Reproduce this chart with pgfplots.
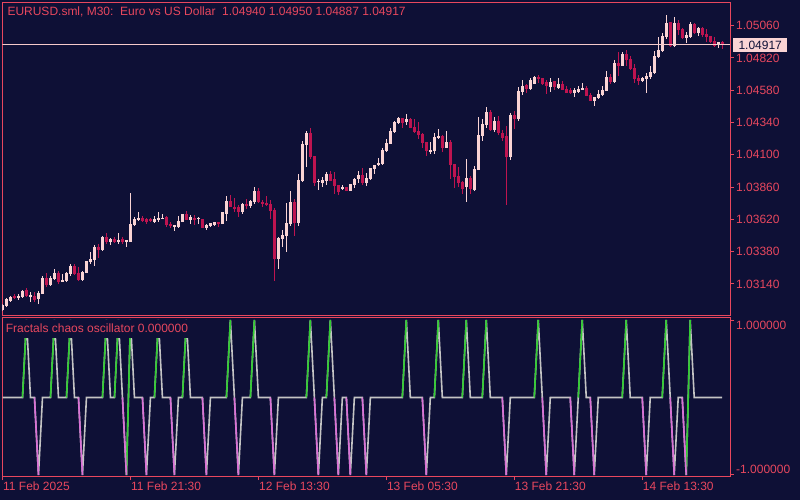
\documentclass[border=0pt]{standalone}
\usepackage{pgfplots}
\usepackage{pgfplotstable}
\pgfplotsset{compat=1.18}
\usetikzlibrary{backgrounds,calc}
\usepackage{fontspec}
\setmainfont{Liberation Sans}
\newcommand\f{\fontsize{12}{14}\selectfont}
\definecolor{bg}{HTML}{0E1036}
\definecolor{fr}{HTML}{E8475E}
\definecolor{bull}{HTML}{FAD4D4}
\definecolor{bear}{HTML}{BE1450}
\definecolor{pline}{HTML}{F5CACA}
\definecolor{oscg}{HTML}{C4C4C4}
\definecolor{oscup}{HTML}{32CD32}
\definecolor{oscdn}{HTML}{DA70D6}

\pgfplotstableread{
k o h l c
0 1.02947 1.02991 1.02940 1.02984
1 1.02976 1.03036 1.02969 1.03028
2 1.03014 1.03051 1.03006 1.03043
4 1.03036 1.03065 1.03021 1.03051
5 1.03043 1.03095 1.03036 1.03088
7 1.03051 1.03080 1.03006 1.03058
9 1.03028 1.03088 1.02991 1.03073
10 1.03065 1.03199 1.03065 1.03185
12 1.03133 1.03199 1.03125 1.03185
13 1.03177 1.03251 1.03170 1.03222
15 1.03155 1.03214 1.03155 1.03170
16 1.03163 1.03229 1.03155 1.03222
17 1.03214 1.03288 1.03199 1.03273
20 1.03170 1.03237 1.03163 1.03229
21 1.03222 1.03311 1.03222 1.03311
22 1.03303 1.03378 1.03288 1.03326
23 1.03318 1.03430 1.03273 1.03415
25 1.03393 1.03497 1.03386 1.03489
27 1.03452 1.03482 1.03430 1.03474
29 1.03452 1.03519 1.03437 1.03467
31 1.03452 1.03467 1.03415 1.03467
32 1.03452 1.03817 1.03452 1.03586
33 1.03579 1.03638 1.03571 1.03623
34 1.03616 1.03675 1.03609 1.03631
38 1.03601 1.03645 1.03594 1.03623
39 1.03616 1.03675 1.03601 1.03631
40 1.03623 1.03660 1.03623 1.03631
43 1.03571 1.03579 1.03534 1.03579
44 1.03564 1.03645 1.03556 1.03609
45 1.03601 1.03660 1.03601 1.03660
47 1.03616 1.03653 1.03586 1.03638
49 1.03623 1.03638 1.03586 1.03631
51 1.03556 1.03586 1.03541 1.03579
52 1.03571 1.03594 1.03564 1.03594
53 1.03579 1.03601 1.03571 1.03601
55 1.03586 1.03675 1.03586 1.03675
56 1.03660 1.03794 1.03609 1.03757
60 1.03675 1.03742 1.03660 1.03734
62 1.03719 1.03764 1.03705 1.03757
63 1.03749 1.03861 1.03734 1.03832
69 1.03326 1.03489 1.03251 1.03482
70 1.03474 1.03541 1.03415 1.03504
71 1.03497 1.03742 1.03378 1.03594
72 1.03586 1.03832 1.03571 1.03749
74 1.03594 1.03957 1.03571 1.03913
75 1.03906 1.04203 1.03898 1.04180
76 1.04173 1.04278 1.04010 1.04263
79 1.03898 1.03920 1.03839 1.03906
80 1.03891 1.03935 1.03861 1.03913
81 1.03906 1.03972 1.03876 1.03957
85 1.03846 1.03876 1.03839 1.03861
87 1.03832 1.03883 1.03832 1.03883
88 1.03876 1.03928 1.03854 1.03920
89 1.03920 1.03980 1.03891 1.03950
91 1.03891 1.03965 1.03868 1.03928
92 1.03920 1.04002 1.03913 1.04002
93 1.03995 1.04025 1.03957 1.04025
94 1.04025 1.04077 1.04017 1.04040
95 1.04032 1.04151 1.04025 1.04136
96 1.04129 1.04218 1.04121 1.04188
97 1.04180 1.04300 1.04180 1.04278
98 1.04270 1.04352 1.04263 1.04344
99 1.04337 1.04381 1.04329 1.04374
101 1.04344 1.04404 1.04322 1.04367
107 1.04129 1.04195 1.04106 1.04136
108 1.04129 1.04263 1.04106 1.04233
109 1.04225 1.04292 1.04218 1.04240
111 1.04151 1.04278 1.04151 1.04195
116 1.03861 1.04069 1.03749 1.03928
118 1.03839 1.04017 1.03832 1.03995
119 1.03987 1.04381 1.03987 1.04248
120 1.04240 1.04367 1.04203 1.04329
121 1.04322 1.04456 1.04300 1.04418
123 1.04285 1.04381 1.04270 1.04352
127 1.04084 1.04411 1.04062 1.04396
129 1.04367 1.04604 1.04352 1.04574
130 1.04567 1.04656 1.04545 1.04612
132 1.04589 1.04671 1.04582 1.04656
133 1.04626 1.04686 1.04626 1.04678
137 1.04604 1.04671 1.04567 1.04641
139 1.04597 1.04671 1.04589 1.04626
143 1.04560 1.04597 1.04530 1.04582
144 1.04567 1.04612 1.04560 1.04589
145 1.04582 1.04634 1.04582 1.04597
148 1.04500 1.04530 1.04463 1.04530
149 1.04523 1.04582 1.04515 1.04552
150 1.04545 1.04612 1.04537 1.04582
151 1.04574 1.04723 1.04574 1.04678
153 1.04641 1.04805 1.04634 1.04783
155 1.04760 1.04864 1.04760 1.04849
160 1.04649 1.04678 1.04641 1.04671
161 1.04663 1.04708 1.04560 1.04686
162 1.04678 1.04760 1.04663 1.04716
163 1.04708 1.04872 1.04701 1.04835
164 1.04827 1.04976 1.04820 1.04879
165 1.04872 1.05006 1.04864 1.04983
166 1.04976 1.05140 1.04961 1.05080
168 1.04909 1.05125 1.04902 1.05080
171 1.04969 1.05013 1.04932 1.04991
172 1.04976 1.05087 1.04969 1.05073
174 1.05006 1.05050 1.04983 1.05043
179 1.04917 1.04939 1.04894 1.04939
}\bulltab

\pgfplotstableread{
k o h l c
3 1.03051 1.03065 1.03028 1.03036
6 1.03095 1.03110 1.03043 1.03051
8 1.03051 1.03080 1.03006 1.03021
11 1.03185 1.03222 1.03118 1.03133
14 1.03222 1.03237 1.03140 1.03155
18 1.03273 1.03288 1.03207 1.03214
19 1.03222 1.03266 1.03163 1.03170
24 1.03415 1.03437 1.03333 1.03393
26 1.03489 1.03519 1.03437 1.03452
28 1.03474 1.03489 1.03445 1.03452
30 1.03474 1.03489 1.03437 1.03452
35 1.03631 1.03645 1.03601 1.03609
36 1.03623 1.03631 1.03586 1.03601
37 1.03623 1.03631 1.03601 1.03609
41 1.03638 1.03645 1.03564 1.03579
42 1.03586 1.03601 1.03556 1.03571
46 1.03660 1.03683 1.03616 1.03616
48 1.03631 1.03653 1.03579 1.03616
50 1.03623 1.03623 1.03556 1.03556
54 1.03601 1.03601 1.03564 1.03586
57 1.03757 1.03802 1.03712 1.03712
58 1.03712 1.03780 1.03675 1.03705
59 1.03712 1.03727 1.03638 1.03675
61 1.03734 1.03772 1.03697 1.03719
64 1.03832 1.03854 1.03742 1.03749
65 1.03749 1.03764 1.03712 1.03734
66 1.03742 1.03794 1.03719 1.03727
67 1.03734 1.03764 1.03623 1.03683
68 1.03690 1.03705 1.03163 1.03326
73 1.03749 1.03772 1.03497 1.03594
77 1.04263 1.04300 1.04069 1.04084
78 1.04091 1.04091 1.03868 1.03891
82 1.03957 1.03980 1.03906 1.03906
83 1.03920 1.03972 1.03809 1.03868
84 1.03876 1.03876 1.03802 1.03824
86 1.03861 1.03861 1.03832 1.03832
90 1.03950 1.04002 1.03876 1.03891
100 1.04374 1.04374 1.04300 1.04337
102 1.04367 1.04374 1.04300 1.04300
103 1.04307 1.04367 1.04263 1.04270
104 1.04278 1.04344 1.04218 1.04248
105 1.04255 1.04263 1.04151 1.04188
106 1.04195 1.04195 1.04091 1.04129
110 1.04240 1.04248 1.04121 1.04151
112 1.04195 1.04210 1.03920 1.04025
113 1.04032 1.04032 1.03854 1.03935
114 1.03943 1.04010 1.03861 1.03891
115 1.03898 1.03906 1.03809 1.03846
117 1.03928 1.03943 1.03809 1.03846
122 1.04418 1.04433 1.04278 1.04285
124 1.04352 1.04389 1.04248 1.04263
125 1.04263 1.04285 1.04203 1.04225
126 1.04240 1.04315 1.03727 1.04084
128 1.04396 1.04426 1.04292 1.04367
131 1.04619 1.04626 1.04560 1.04589
134 1.04678 1.04693 1.04634 1.04663
135 1.04671 1.04671 1.04619 1.04626
136 1.04641 1.04656 1.04552 1.04612
138 1.04649 1.04649 1.04582 1.04604
140 1.04626 1.04649 1.04582 1.04582
141 1.04589 1.04612 1.04560 1.04560
142 1.04582 1.04597 1.04552 1.04560
146 1.04597 1.04612 1.04537 1.04537
147 1.04545 1.04560 1.04500 1.04500
152 1.04678 1.04701 1.04626 1.04641
154 1.04783 1.04864 1.04686 1.04760
156 1.04849 1.04879 1.04760 1.04805
157 1.04812 1.04835 1.04731 1.04738
158 1.04746 1.04775 1.04634 1.04663
159 1.04671 1.04693 1.04619 1.04649
167 1.05087 1.05087 1.04902 1.04909
169 1.05080 1.05102 1.04991 1.05028
170 1.05035 1.05043 1.04961 1.04969
173 1.05073 1.05080 1.04998 1.05006
175 1.05043 1.05050 1.04976 1.04991
176 1.04998 1.05035 1.04939 1.04976
177 1.04983 1.04983 1.04932 1.04939
178 1.04946 1.04976 1.04902 1.04909
180 1.04940 1.04950 1.04887 1.04917
}\beartab

\pgfplotsset{
  wick/.style={draw=none, mark=none, forget plot,
    error bars/.cd, y dir=both, y explicit, error mark=none,
    error bar style={line width=1pt, draw=#1}},
  body/.style={draw=none, mark=none, forget plot,
    error bars/.cd, y dir=both, y explicit, error mark=none,
    error bar style={line width=3pt, draw=#1}},
}

\begin{document}
\begin{tikzpicture}[x=1pt,y=1pt]
\begin{axis}[
  name=main,
  scale only axis, width=727.7pt, height=313.7pt,
  xmin=-0.05, xmax=181.95,
  ymin=1.02902, ymax=1.05234,
  axis line style={draw=fr, line width=1pt},
  xtick=\empty,
  ytick={1.0314,1.0338,1.0362,1.0386,1.041,1.0434,1.0458,1.0482,1.0506},
  scaled y ticks=false,
  ytick pos=right, yticklabel pos=right,
  tick align=outside, major tick length=4pt,
  tick style={draw=fr, line width=1pt},
  yticklabel style={font=\f, text=fr, anchor=west, inner sep=0pt, xshift=2pt,
    /pgf/number format/.cd, fixed, fixed zerofill, precision=5, assume math mode=true},
]
\addplot[wick=bull] table[x=k, y expr={(\thisrow{h}+\thisrow{l})/2}, y error expr={(\thisrow{h}-\thisrow{l})/2}] {\bulltab};
\addplot[wick=bear] table[x=k, y expr={(\thisrow{h}+\thisrow{l})/2}, y error expr={(\thisrow{h}-\thisrow{l})/2}] {\beartab};
\addplot[body=bull] table[x=k, y expr={(\thisrow{o}+\thisrow{c})/2}, y error expr={abs(\thisrow{o}-\thisrow{c})/2}] {\bulltab};
\addplot[body=bear] table[x=k, y expr={(\thisrow{o}+\thisrow{c})/2}, y error expr={abs(\thisrow{o}-\thisrow{c})/2}] {\beartab};
\addplot[pline, line width=1pt, forget plot] coordinates {(-0.05,1.04917) (181.95,1.04917)};
\coordinate (pl) at (axis cs:181.95,1.04917);
\coordinate (mSW) at (rel axis cs:0,0);
\end{axis}

\begin{axis}[
  at={($(mSW)+(0,-2)$)}, anchor=north west,
  scale only axis, width=727.7pt, height=158pt,
  xmin=-0.05, xmax=181.95,
  ymin=-1.013, ymax=1.026,
  axis line style={draw=fr, line width=1pt},
  xtick={0,32,64,96,128,160},
  xticklabels={11 Feb 2025, 11 Feb 21:30, 12 Feb 13:30, 13 Feb 05:30, 13 Feb 21:30, 14 Feb 13:30},
  xtick pos=bottom,
  xticklabel style={font=\f, text=fr, anchor=north west, inner sep=0pt, xshift=0.5pt, yshift=-2pt},
  ytick={1}, yticklabels={1.000000},
  extra y ticks={-1}, extra y tick labels={-1.000000},
  extra y tick style={yticklabel style={yshift=11pt}},
  ytick pos=right, yticklabel pos=right,
  yticklabel style={font=\f, text=fr, anchor=west, inner sep=0pt, xshift=2pt, yshift=-5.5pt},
  tick align=outside, major tick length=4pt,
  tick style={draw=fr, line width=1pt},
  unbounded coords=jump,
]
\addplot[oscg, line width=1.6pt] coordinates {
(0,0) (5,0) (6,1) (7,0) (8,0) (9,-1) (10,0) (12,0) (13,1) (14,0) (16,0) (17,1) (18,0) (19,0) (20,-1) (21,0)
(25,0) (26,1) (27,0) (28,0) (29,1) (30,0) (31,-1) (32,1) (33,0) (35,0) (36,-1) (37,0) (38,0) (39,1) (40,0)
(42,0) (43,-1) (44,0) (45,0) (46,1) (47,0) (50,0) (51,-1) (52,0) (56,0) (57,1) (58,0) (59,-1) (60,0)
(62,0) (63,1) (64,0) (67,0) (68,-1) (69,0) (76,0) (77,1) (78,0) (79,-1) (80,0) (81,0) (82,1) (83,0)
(84,-1) (85,0) (86,0) (87,-1) (88,0) (90,0) (91,-1) (92,0) (100,0) (101,1) (102,0) (105,0) (106,-1) (107,0)
(108,0) (109,1) (110,0) (115,0) (116,1) (117,0) (120,0) (121,1) (122,0) (125,0) (126,-1) (127,0)
(133,0) (134,1) (135,0) (136,-1) (137,0) (142,0) (143,-1) (144,0) (145,1) (146,0) (147,0) (148,-1) (149,0)
(155,0) (156,1) (157,0) (160,0) (161,-1) (162,0) (165,0) (166,1) (167,0) (168,-1) (169,0) (170,0)
(171,-1) (172,1) (173,0) (180,0)
};
\addplot[oscup, line width=1.6pt] coordinates {
(5,0) (6,1) (6.5,nan) (12,0) (13,1) (13.5,nan) (16,0) (17,1) (17.5,nan) (25,0) (26,1) (26.5,nan)
(28,0) (29,1) (29.5,nan) (31,-1) (32,1) (32.5,nan) (38,0) (39,1) (39.5,nan) (45,0) (46,1) (46.5,nan)
(56,0) (57,1) (57.5,nan) (62,0) (63,1) (63.5,nan) (76,0) (77,1) (77.5,nan) (81,0) (82,1) (82.5,nan)
(100,0) (101,1) (101.5,nan) (108,0) (109,1) (109.5,nan) (115,0) (116,1) (116.5,nan) (120,0) (121,1) (121.5,nan)
(133,0) (134,1) (134.5,nan) (144,0) (145,1) (145.5,nan) (155,0) (156,1) (156.5,nan) (165,0) (166,1) (166.5,nan)
(171,-1) (172,1)
};
\addplot[oscdn, line width=1.6pt] coordinates {
(8,0) (9,-1) (9.5,nan) (19,0) (20,-1) (20.5,nan) (30,0) (31,-1) (31.5,nan) (35,0) (36,-1) (36.5,nan)
(42,0) (43,-1) (43.5,nan) (50,0) (51,-1) (51.5,nan) (58,0) (59,-1) (59.5,nan) (67,0) (68,-1) (68.5,nan)
(78,0) (79,-1) (79.5,nan) (83,0) (84,-1) (84.5,nan) (86,0) (87,-1) (87.5,nan) (90,0) (91,-1) (91.5,nan)
(105,0) (106,-1) (106.5,nan) (125,0) (126,-1) (126.5,nan) (135,0) (136,-1) (136.5,nan) (142,0) (143,-1) (143.5,nan)
(147,0) (148,-1) (148.5,nan) (160,0) (161,-1) (161.5,nan) (167,0) (168,-1) (168.5,nan) (170,0) (171,-1)
};
\end{axis}

\coordinate (O) at ($(mSW)+(-2.3,-184)$);
\begin{scope}[on background layer]
\fill[bg] (O) rectangle ++(800,500);
\end{scope}
\node[fill=bull, text=bg, font=\f, inner sep=0pt, minimum width=54pt, minimum height=14pt, anchor=west, xshift=3pt] at (pl) {1.04917};
\node[anchor=base west, inner sep=0pt, text=fr, font=\f] at ($(O)+(7.3,484)$) {EURUSD.sml, M30:~~Euro vs US Dollar~~1.04940 1.04950 1.04887 1.04917};
\fill[bg] ($(O)+(3,162)$) rectangle ($(O)+(190,180)$);
\node[anchor=base west, inner sep=0pt, text=fr, font=\f] at ($(O)+(5.7,167)$) {Fractals chaos oscillator 0.000000};
\pgfresetboundingbox
\path[use as bounding box] (O) rectangle ++(800,500);
\end{tikzpicture}
\end{document}
